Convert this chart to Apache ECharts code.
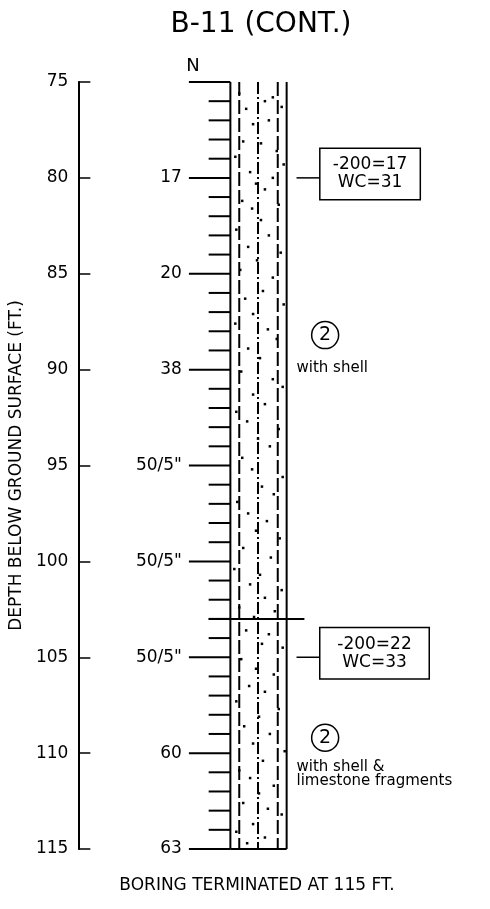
<!DOCTYPE html>
<html><head><meta charset="utf-8">
<script src="https://cdn.jsdelivr.net/npm/echarts/dist/echarts.min.js"></script>
<style>html,body{margin:0;padding:0;background:#fff}#c{width:490px;height:909px}</style>
</head><body><div id="c"></div>
<script>
// ---------- data ----------
const chartTitle = 'B-11 (CONT.)';
const footerText = 'BORING TERMINATED AT 115 FT.';
const axisTitle = 'DEPTH BELOW GROUND SURFACE (FT.)';
const nHeader = 'N';
const depthMin = 75, depthMax = 115, depthStep = 5;
const sptDepths = [80, 85, 90, 95, 100, 105, 110, 115];
const sptN = ['17', '20', '38', '50/5"', '50/5"', '50/5"', '60', '63'];
const topDepth = [75];
const footDepths = [76,77,78,79,81,82,83,84,86,87,88,89,91,92,93,94,96,97,98,99,101,102,103,104,106,107,108,109,111,112,113,114];
const stratumBoundary = [103];
const labDepths = [80, 105];
const labFines = [17, 22];
const labWC = [31, 33];
const stratumIds = ['2', '2'];
const stratumIdDepths = [88.2, 109.2];
const stratumNotes = ['with shell', 'with shell &\nlimestone fragments'];
const stratumNoteDepths = [89.9, 111.1];
const sandDots = [[236,75.6],[243,76.4],[250,77.2],[240,78.1],[232,78.9],[247,79.7],[262,76.0],[270,75.8],[279,76.3],[266,77.0],[258,78.2],[274,78.6],[281,79.3],[253,80.3],[262,80.6],[270,80.0],[239,81.2],[249,81.6],[258,82.2],[276,81.4],[233,82.7],[266,83.0],[245,83.6],[278,83.9],[254,84.3],[237,84.8],[270,85.2],[260,85.9],[242,86.3],[281,86.6],[250,87.1],[232,87.6],[265,87.9],[274,88.4],[245,88.9],[257,89.4],[238,90.1],[270,90.5],[280,90.9],[250,91.3],[262,91.8],[233,92.2],[244,92.7],[276,93.1],[255,93.6],[267,94.0],[239,94.6],[249,95.2],[280,95.6],[259,96.1],[271,96.5],[234,96.9],[245,97.5],[264,97.9],[253,98.4],[277,98.8],[240,99.3],[268,99.8],[231,100.4],[257,100.7],[247,101.2],[279,101.5],[262,101.9],[236,102.4],[272,102.6],[251,102.9],[243,103.6],[266,103.8],[259,104.3],[280,104.5],[238,105.1],[253,105.6],[271,105.9],[246,106.5],[262,106.8],[233,107.3],[276,107.7],[256,108.1],[241,108.6],[267,109.0],[250,109.5],[282,109.9],[260,110.4],[236,110.9],[247,111.3],[271,111.7],[256,112.1],[240,112.6],[265,112.9],[279,113.2],[250,113.7],[233,114.1],[262,114.4],[244,114.7]];

// ---------- layout (schematic horizontal positions) ----------
const FONT = 'DejaVu Sans';
const X = { nTick: 185, footTick: 205, colL: 227, colR: 284, inner: [236, 255, 275],
  boundaryEnd: 302, leaderStart: 294, boxLeft: 319, circle: 323, note: 294 };
const boxWidths = [99, 108];
// style index: 0 solid 2, 1 dashed, 2 dash-dot, 3 thin solid
const STYLES = [
  { lineWidth: 2, lineDash: null },
  { lineWidth: 2, lineDash: [14, 4] },
  { lineWidth: 2, lineDash: [12, 3, 2, 3] },
  { lineWidth: 1.5, lineDash: null }
];

const segs = [];
segs.push([X.colL, depthMin, X.colL, depthMax, 0]);
segs.push([X.colR, depthMin, X.colR, depthMax, 0]);
segs.push([X.inner[0], depthMin, X.inner[0], depthMax, 1]);
segs.push([X.inner[1], depthMin, X.inner[1], depthMax, 2]);
segs.push([X.inner[2], depthMin, X.inner[2], depthMax, 1]);
segs.push([X.colL, depthMax, X.colR, depthMax, 0]);
topDepth.concat(sptDepths).forEach(d => segs.push([X.nTick, d, X.colL, d, 0]));
footDepths.forEach(d => segs.push([X.footTick, d, X.colL, d, 0]));
stratumBoundary.forEach(d => segs.push([X.footTick, d, X.boundaryEnd, d, 0]));
labDepths.forEach(d => segs.push([X.leaderStart, d, X.boxLeft, d, 3]));

const solid = { opacity: 1 };
const chart = echarts.init(document.getElementById('c'), null, { renderer: 'canvas' });
chart.setOption({
  animation: false,
  backgroundColor: '#fff',
  title: {
    text: chartTitle, left: 256, top: 6, textAlign: 'center',
    textStyle: { fontFamily: FONT, fontSize: 28, fontWeight: 'normal', color: '#000' }
  },
  grid: { left: 73, right: 0, top: 82, bottom: 60, containLabel: false },
  xAxis: { type: 'value', min: 73, max: 490, show: false },
  yAxis: {
    type: 'value', inverse: true, min: depthMin, max: depthMax, interval: depthStep,
    name: axisTitle, nameLocation: 'middle', nameGap: 39,
    nameTextStyle: { fontFamily: FONT, fontSize: 17, color: '#000' },
    axisLine: { show: true, lineStyle: { color: '#000', width: 2 } },
    axisTick: { show: true, inside: true, length: 12, lineStyle: { color: '#000', width: 1.5 } },
    axisLabel: { fontFamily: FONT, fontSize: 17, color: '#000', margin: 10 },
    splitLine: { show: false }
  },
  graphic: [
    { type: 'text', x: 193, y: 66, style: { text: nHeader, fontFamily: FONT, fontSize: 18, fill: '#000', align: 'center', verticalAlign: 'middle' } },
    { type: 'text', x: 257, y: 886, style: { text: footerText, fontFamily: FONT, fontSize: 17, fill: '#000', align: 'center', verticalAlign: 'middle' } }
  ],
  series: [
    {
      type: 'custom', clip: false, silent: true,
      encode: { x: [0, 2], y: [1, 3] },
      data: segs,
      renderItem: (params, api) => {
        const p1 = api.coord([api.value(0), api.value(1)]);
        const p2 = api.coord([api.value(2), api.value(3)]);
        const st = STYLES[api.value(4)];
        return { type: 'line', shape: { x1: p1[0], y1: p1[1], x2: p2[0], y2: p2[1] },
          style: { stroke: '#000', lineWidth: st.lineWidth, lineDash: st.lineDash } };
      }
    },
    {
      type: 'scatter', silent: true, symbol: 'rect', symbolSize: 2.5,
      itemStyle: { color: '#000', opacity: 1 },
      data: sandDots
    },
    {
      type: 'scatter', silent: true, symbolSize: 0, itemStyle: solid,
      data: sptDepths.map((d, i) => ({ value: [X.nTick, d], name: sptN[i] })),
      label: { show: true, position: 'left', distance: 7, formatter: p => p.name,
        fontFamily: FONT, fontSize: 17, color: '#000' }
    },
    {
      type: 'scatter', silent: true, symbolSize: 0, itemStyle: solid,
      data: labDepths.map((d, i) => ({
        value: [X.boxLeft + boxWidths[i] / 2, d],
        label: { width: boxWidths[i] - 2 },
        name: '-200=' + labFines[i] + '\nWC=' + labWC[i]
      })),
      label: { show: true, position: 'inside', align: 'center', verticalAlign: 'middle', offset: [0, -4],
        formatter: p => p.name, fontFamily: FONT, fontSize: 17, lineHeight: 18, color: '#000',
        borderColor: '#000', borderWidth: 1.5, padding: [7, 1], backgroundColor: '#fff' }
    },
    {
      type: 'scatter', silent: true, symbol: 'circle', symbolSize: 27,
      itemStyle: { color: '#fff', borderColor: '#000', borderWidth: 1.5, opacity: 1 },
      data: stratumIdDepths.map((d, i) => ({ value: [X.circle, d], name: stratumIds[i] })),
      label: { show: true, position: 'inside', formatter: p => p.name,
        fontFamily: FONT, fontSize: 19, color: '#000' }
    },
    {
      type: 'scatter', silent: true, symbolSize: 0, itemStyle: solid,
      data: stratumNoteDepths.map((d, i) => ({ value: [X.note, d], name: stratumNotes[i] })),
      label: { show: true, position: 'right', distance: 0, formatter: p => p.name,
        fontFamily: FONT, fontSize: 15, lineHeight: 14, color: '#000' }
    }
  ]
});
</script>
</body></html>
